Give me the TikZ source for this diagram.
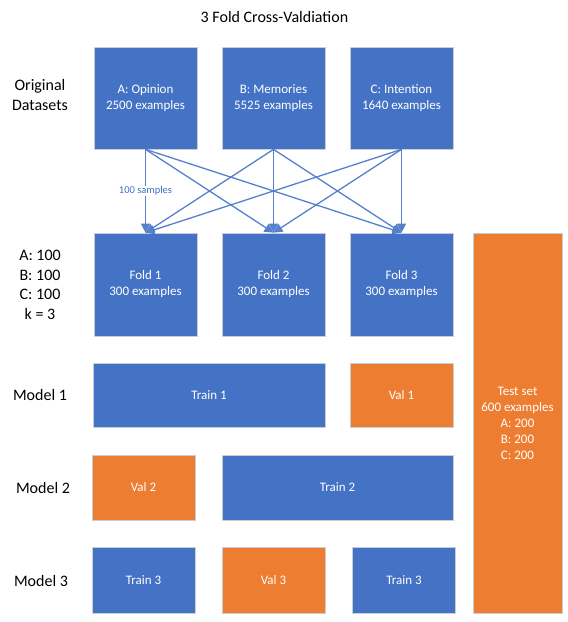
\documentclass[tikz,border=0pt]{standalone}
\usepackage{fontspec}
\setmainfont{Carlito}
\usetikzlibrary{arrows.meta}
\definecolor{pblue}{HTML}{4472C4}
\definecolor{plink}{HTML}{5580CC}
\definecolor{porange}{HTML}{ED7D31}
\definecolor{pedge}{HTML}{C8CDD6}
\tikzset{
  box/.style={rectangle, draw=pedge, line width=0.7pt, inner sep=0pt, text=white, align=center,
    font=\fontsize{13}{16}\selectfont},
  bluebox/.style={box, fill=pblue},
  orangebox/.style={box, fill=porange},
  sidelabel/.style={align=center, font=\fontsize{16}{19.5}\selectfont, text=black},
  conn/.style={draw=plink, line width=1.3pt, -{Triangle[length=9pt,width=9pt]}},
}
\begin{document}
\begin{tikzpicture}[x=1pt,y=-1pt]
\useasboundingbox (0,0) rectangle (568,622);
% title
\node[sidelabel] (title) at (274.5,17.5) {3 Fold Cross-Valdiation};
% side labels
\node[sidelabel] (orig) at (40,95) {Original\\Datasets};
\node[sidelabel] (counts) at (40,285) {A: 100\\B: 100\\C: 100\\k = 3};
\node[sidelabel] (m1) at (40,395) {Model 1};
\node[sidelabel] (m2) at (43,488) {Model 2};
\node[sidelabel] (m3) at (41,581) {Model 3};
% original datasets
\node[bluebox, minimum width=103pt, minimum height=102pt] (A) at (145.5,98) {A: Opinion\\2500 examples};
\node[bluebox, minimum width=103pt, minimum height=102pt] (B) at (273.5,98) {B: Memories\\5525 examples};
\node[bluebox, minimum width=103pt, minimum height=102pt] (C) at (401.5,98) {C: Intention\\1640 examples};
% folds
\node[bluebox, minimum width=103pt, minimum height=103pt] (F1) at (145.5,284.5) {Fold 1\\300 examples};
\node[bluebox, minimum width=103pt, minimum height=103pt] (F2) at (273.5,284.5) {Fold 2\\300 examples};
\node[bluebox, minimum width=103pt, minimum height=103pt] (F3) at (401.5,284.5) {Fold 3\\300 examples};
% test set
\node[orangebox, minimum width=89pt, minimum height=380pt] (test) at (517.5,423) {Test set\\600 examples\\A: 200\\B: 200\\C: 200};
% model 1
\node[bluebox, minimum width=232pt, minimum height=64pt] (tr1) at (209,395) {Train 1};
\node[orangebox, minimum width=103pt, minimum height=64pt] (v1) at (401.5,395) {Val 1};
% model 2
\node[orangebox, minimum width=103pt, minimum height=65pt] (v2) at (143.5,487.5) {Val 2};
\node[bluebox, minimum width=231pt, minimum height=65pt] (tr2) at (337.5,487.5) {Train 2};
% model 3
\node[bluebox, minimum width=103pt, minimum height=66pt] (tr3a) at (143.5,580) {Train 3};
\node[orangebox, minimum width=103pt, minimum height=66pt] (v3) at (273.5,580) {Val 3};
\node[bluebox, minimum width=103pt, minimum height=66pt] (tr3b) at (404,580) {Train 3};
% connectors
\draw[conn] (A.south) -- (F2.north);
\draw[conn] (A.south) -- (F3.north);
\draw[conn] (B.south) -- (F1.north);
\draw[conn] (B.south) -- (F2.north);
\draw[conn] (B.south) -- (F3.north);
\draw[conn] (C.south) -- (F1.north);
\draw[conn] (C.south) -- (F2.north);
\draw[conn] (C.south) -- (F3.north);
\draw[conn] (A.south) -- node[fill=white, inner sep=1pt, text=pblue, font=\fontsize{10.5}{12}\selectfont] (lbl) {100 samples} (F1.north);
\end{tikzpicture}
\end{document}
